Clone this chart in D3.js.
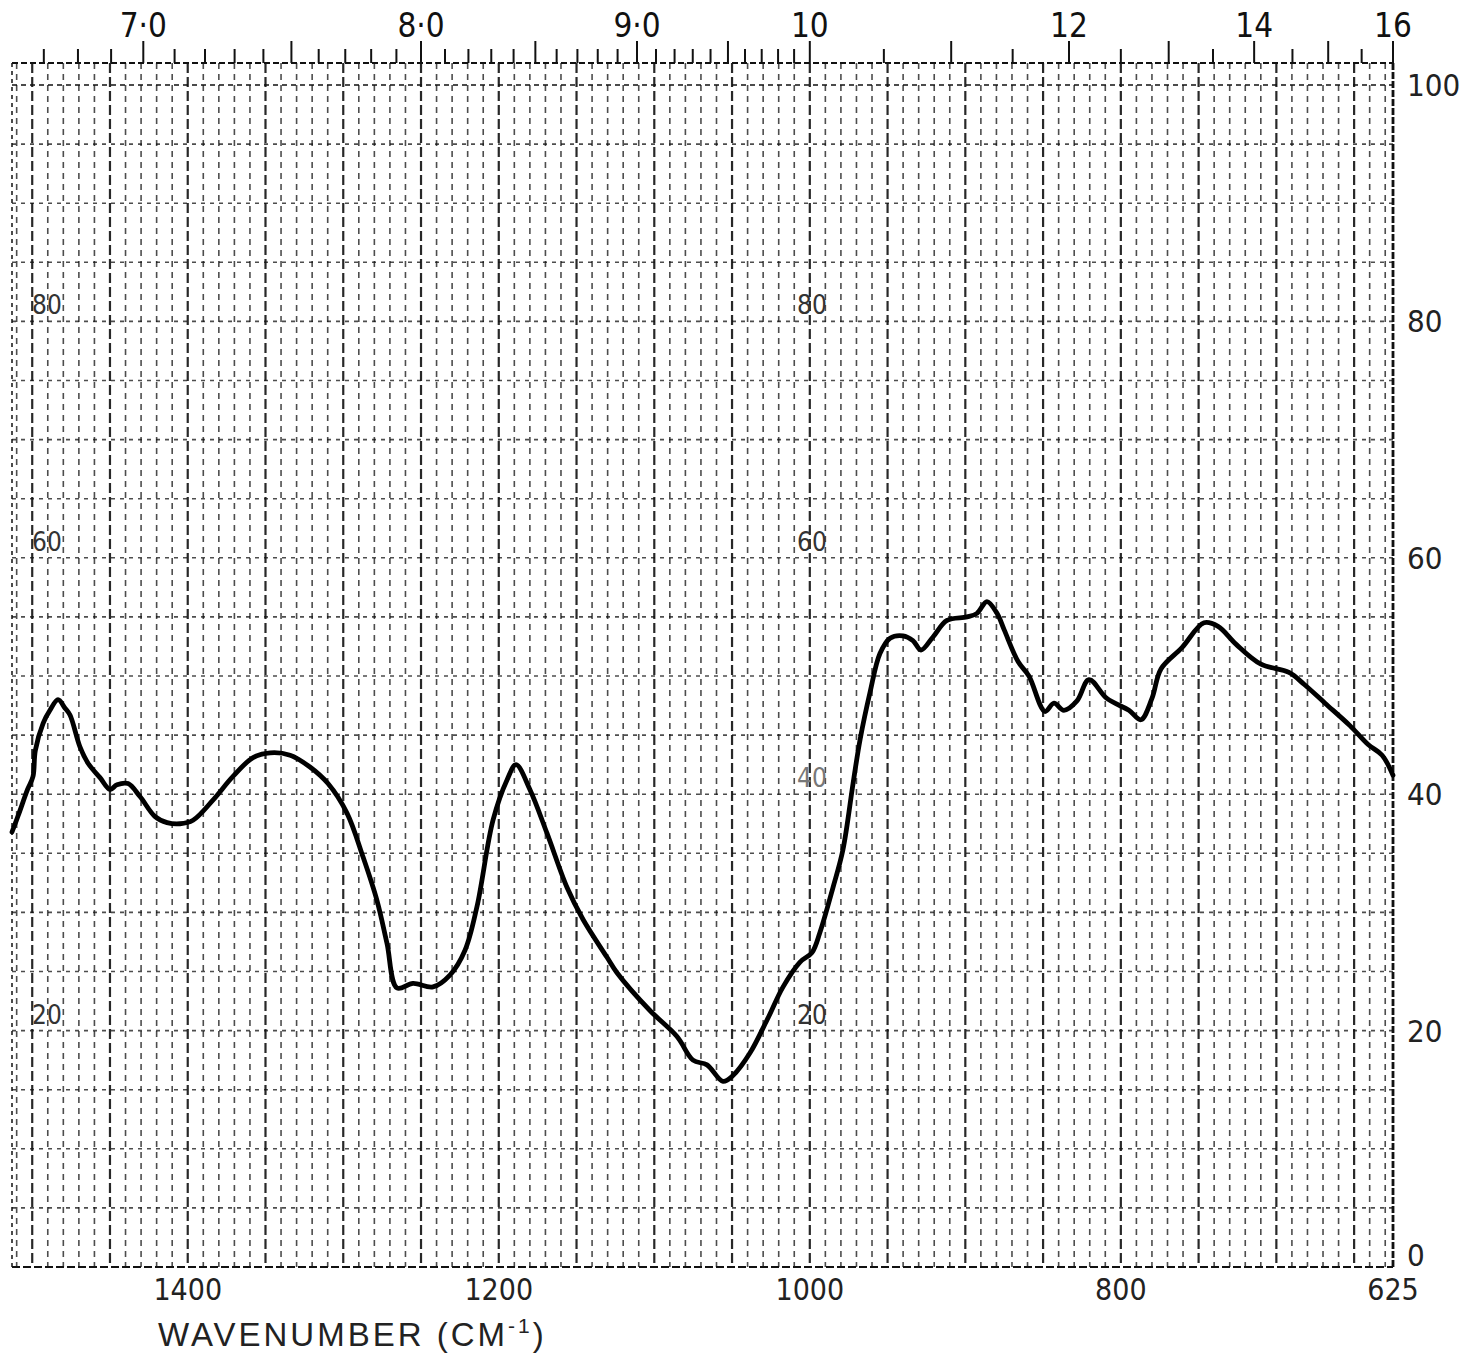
<!DOCTYPE html>
<html>
<head>
<meta charset="utf-8">
<script src="https://cdn.jsdelivr.net/npm/d3@7"></script>
<style>
  body { margin: 0; background: #fff; }
  svg { display: block; }
</style>
</head>
<body>
<script>
// Spectrum trace (wavenumber in cm-1, % transmittance)
const wavenumber = [1513, 1509, 1503, 1499.5, 1498, 1493, 1488.6, 1483.4, 1479, 1475.7,
  1469.3, 1464, 1456.4, 1450, 1445.5, 1438.4, 1430.7, 1421, 1413.3, 1405,
  1396.6, 1383.8, 1370.9, 1358, 1347, 1334.2, 1321.4, 1309.8, 1297.6, 1287.3,
  1278.3, 1271.9, 1265.4, 1255.2, 1242.3, 1231.4, 1221.7, 1214, 1203.7, 1194.7,
  1188.9, 1180, 1169, 1156.1, 1145.8, 1130.4, 1124, 1102.8, 1085.4, 1075.1,
  1066.1, 1055.8, 1049.4, 1038.5, 1027.5, 1017.2, 1006.3, 998.6, 993.5, 985.1,
  978.7, 972.2, 967.7, 961.3, 954.9, 948.4, 940.1, 933.7, 928.5, 920.8,
  911.8, 898.9, 892.5, 886.1, 879.6, 875, 866, 859.1, 848.8, 843,
  836.6, 828.2, 820.5, 809, 794.8, 787.1, 780, 774.2, 760.7, 746.5,
  737.5, 726, 709.9, 691.9, 682.2, 668.7, 652.7, 641, 632, 625];
const transmittance = [36.8, 38.2, 40.4, 41.5, 43.7, 46.0, 47.1, 48.0, 47.3, 46.7,
  44.0, 42.6, 41.4, 40.4, 40.8, 40.9, 39.8, 38.1, 37.6, 37.5,
  37.8, 39.5, 41.5, 43.1, 43.5, 43.3, 42.3, 40.9, 38.4, 34.7,
  31.0, 27.4, 23.6, 24.0, 23.7, 24.7, 26.8, 30.5, 37.8, 41.2,
  42.5, 40.4, 36.7, 32.1, 29.4, 26.2, 24.9, 21.7, 19.5, 17.5,
  17.1, 15.7, 16.2, 18.1, 20.9, 23.7, 25.8, 26.6, 28.3, 32.1,
  35.3, 40.9, 44.6, 48.6, 51.9, 53.2, 53.4, 53.0, 52.2, 53.3,
  54.7, 55.0, 55.3, 56.3, 55.3, 53.9, 51.2, 50.0, 47.0, 47.7,
  47.1, 47.9, 49.7, 48.1, 47.1, 46.3, 48.1, 50.6, 52.4, 54.5,
  54.2, 52.7, 51.0, 50.3, 49.3, 47.7, 45.8, 44.2, 43.3, 41.6];

// Axis labels
const micronLabelValues = [7, 8, 9, 10, 12, 14, 16];
const micronLabels = ["7·0", "8·0", "9·0", "10", "12", "14", "16"];
const wavenumberTicks = [1400, 1200, 1000, 800, 625];
const percentTicks = [100, 80, 60, 40, 20, 0];
const innerPercentLabels = [80, 60, 20];
const midPercentLabels = [80, 60, 40, 20];

const width = 1472, height = 1356;
const svg = d3.select("body").append("svg")
  .attr("width", width)
  .attr("height", height);

const x = d3.scaleLinear().domain([1513, 625]).range([12, 1393]);
const y = d3.scaleLinear().domain([0, 100]).range([1267, 85]);
const topEdge = y(100) - 22;

const narrow = "'Liberation Sans Narrow', 'DejaVu Sans Condensed', 'Liberation Sans', sans-serif";

// grid paper
const grid = svg.append("g").attr("stroke", "#111").attr("fill", "none");

grid.selectAll("line.v")
  .data(d3.range(630, 1511, 10))
  .join("line")
  .attr("x1", d => x(d)).attr("x2", d => x(d))
  .attr("y1", topEdge).attr("y2", y(0))
  .attr("stroke-width", d => d % 50 === 0 ? 2.2 : 1.6)
  .attr("stroke-opacity", d => d % 50 === 0 ? 0.9 : 0.75)
  .attr("stroke-dasharray", d => d % 50 === 0 ? "10,4" : "6,5");

grid.selectAll("line.h")
  .data(d3.range(5, 100, 5))
  .join("line")
  .attr("x1", x(1513)).attr("x2", x(625))
  .attr("y1", d => y(d)).attr("y2", d => y(d))
  .attr("stroke-width", 1.6)
  .attr("stroke-opacity", 0.75)
  .attr("stroke-dasharray", "4,5");

// frame
grid.append("line")
  .attr("x1", x(1513)).attr("x2", x(625))
  .attr("y1", topEdge).attr("y2", topEdge)
  .attr("stroke-width", 1.8).attr("stroke-dasharray", "6,3");
grid.append("line")
  .attr("x1", x(1513)).attr("x2", x(625))
  .attr("y1", y(100)).attr("y2", y(100))
  .attr("stroke-width", 1.6).attr("stroke-dasharray", "5,4");
grid.append("line")
  .attr("x1", x(1513)).attr("x2", x(625))
  .attr("y1", y(0)).attr("y2", y(0))
  .attr("stroke-width", 2).attr("stroke-dasharray", "8,3");
grid.append("line")
  .attr("x1", x(1513)).attr("x2", x(1513))
  .attr("y1", topEdge).attr("y2", y(0))
  .attr("stroke-width", 1.5).attr("stroke-dasharray", "4,4");
grid.append("line")
  .attr("x1", x(625)).attr("x2", x(625))
  .attr("y1", topEdge).attr("y2", y(0))
  .attr("stroke-width", 2.8).attr("stroke-dasharray", "7,2");

// top wavelength scale (microns)
const micronTicks = d3.range(66, 101).map(d => d / 10)
  .concat(d3.range(21, 33).map(d => d / 2));
svg.append("g").selectAll("line")
  .data(micronTicks.filter(m => 1e4 / m <= 1513))
  .join("line")
  .attr("x1", m => x(1e4 / m)).attr("x2", m => x(1e4 / m))
  .attr("y1", topEdge)
  .attr("y2", m => {
    const big = m <= 10 ? Math.abs(m * 2 - Math.round(m * 2)) < 1e-6 : Number.isInteger(m);
    return topEdge - (big ? 22 : 14);
  })
  .attr("stroke", "#111")
  .attr("stroke-width", 2);

svg.append("g").selectAll("text")
  .data(micronLabelValues)
  .join("text")
  .attr("x", m => x(1e4 / m))
  .attr("y", 37)
  .attr("text-anchor", "middle")
  .attr("font-family", narrow)
  .attr("font-size", 33)
  .attr("fill", "#111")
  .text((m, i) => micronLabels[i]);

// right % scale
svg.append("g").selectAll("text")
  .data(percentTicks)
  .join("text")
  .attr("x", x(625) + 14)
  .attr("y", d => d === 0 ? y(d) - 1 : y(d) + 11)
  .attr("font-family", narrow)
  .attr("font-size", 31)
  .attr("fill", "#222")
  .text(d => d);

// printed labels inside the grid
svg.append("g").selectAll("text")
  .data(innerPercentLabels)
  .join("text")
  .attr("x", 32)
  .attr("y", d => y(d) - 7)
  .attr("font-family", narrow)
  .attr("font-size", 26)
  .attr("fill", "#333")
  .text(d => d);

svg.append("g").selectAll("text")
  .data(midPercentLabels)
  .join("text")
  .attr("x", 797)
  .attr("y", d => y(d) - 7)
  .attr("font-family", narrow)
  .attr("font-size", 26)
  .attr("fill", d => d === 40 ? "#777" : "#333")
  .text(d => d);

// bottom wavenumber scale
svg.append("g").selectAll("text")
  .data(wavenumberTicks)
  .join("text")
  .attr("x", d => x(d))
  .attr("y", 1300)
  .attr("text-anchor", "middle")
  .attr("font-family", narrow)
  .attr("font-size", 30)
  .attr("fill", "#222")
  .text(d => d);

const title = svg.append("text")
  .attr("x", 158)
  .attr("y", 1346)
  .attr("font-family", "'Liberation Sans', 'DejaVu Sans', sans-serif")
  .attr("font-size", 33)
  .attr("letter-spacing", 3)
  .attr("fill", "#222");
title.append("tspan").text("WAVENUMBER  (CM");
title.append("tspan").attr("dy", -13).attr("font-size", 21).text("-1");
title.append("tspan").attr("dy", 13).text(")");

// spectrum trace
const line = d3.line()
  .x((d, i) => x(wavenumber[i]))
  .y(d => y(d))
  .curve(d3.curveCatmullRom.alpha(0.5));

svg.append("path")
  .datum(transmittance)
  .attr("d", line)
  .attr("fill", "none")
  .attr("stroke", "#000")
  .attr("stroke-width", 4.8)
  .attr("stroke-linejoin", "round")
  .attr("stroke-linecap", "round");
</script>
</body>
</html>
